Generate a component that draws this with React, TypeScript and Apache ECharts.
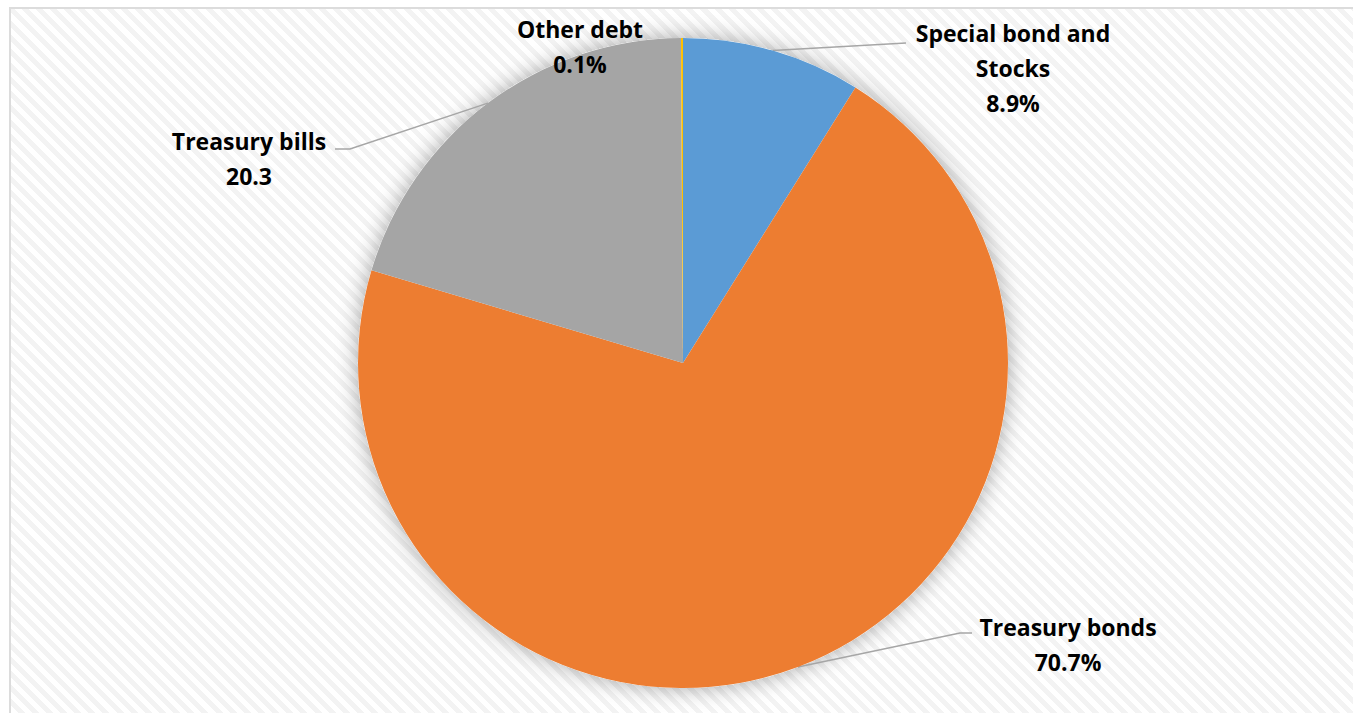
import React, { useEffect, useRef } from "react";
import * as echarts from "echarts";

// ---- data ----
const categories = ["Special bond and\nStocks", "Treasury bonds", "Treasury bills", "Other debt"];
const values = [8.9, 70.7, 20.3, 0.1];
const valueLabels = ["8.9%", "70.7%", "20.3", "0.1%"];
const colors = ["#5B9BD5", "#ED7D31", "#A5A5A5", "#FFC000"];

// ---- label layout (positions only) ----
const LABEL_LAYOUT: { x: number; y: number; line: number[][] | null }[] = [
  { x: 1013, y: 68, line: [[906, 43]] },
  { x: 1068, y: 644, line: [[960, 633], [972, 633]] },
  { x: 249, y: 158, line: [[350, 149], [335, 149]] },
  { x: 580, y: 46, line: null },
];

const CENTER = [683, 363];
const RADIUS = 325;

export default function App() {
  const ref = useRef<HTMLDivElement>(null);

  useEffect(() => {
    if (!ref.current) return;
    const chart = echarts.init(ref.current, undefined, { renderer: "svg" });
    const data = categories.map((name, i) => ({
      name,
      value: values[i],
      itemStyle: { color: colors[i] },
      labelLine: { show: LABEL_LAYOUT[i].line != null },
    }));
    chart.setOption({
      animation: false,
      backgroundColor: "transparent",
      series: [
        {
          type: "pie",
          silent: true,
          center: CENTER,
          radius: RADIUS,
          z: 1,
          label: { show: false },
          labelLine: { show: false },
          data: [
            {
              value: 1,
              itemStyle: {
                color: "#ffffff",
                shadowBlur: 22,
                shadowColor: "rgba(0,0,0,0.35)",
              },
            },
          ],
        },
        {
          type: "pie",
          z: 2,
          center: CENTER,
          radius: RADIUS,
          startAngle: 90,
          clockwise: true,
          avoidLabelOverlap: false,
          itemStyle: { borderWidth: 0 },
          label: {
            show: true,
            position: "outside",
            formatter: (p: any) => `${p.name}\n${valueLabels[p.dataIndex]}`,
            fontFamily: "'Open Sans', Lato, sans-serif",
            fontWeight: "bold",
            fontSize: 23,
            lineHeight: 35,
            color: "#000000",
            align: "center",
          },
          labelLine: {
            show: true,
            lineStyle: { color: "#a6a6a6", width: 1.5 },
          },
          labelLayout: (params: any) => {
            const L = LABEL_LAYOUT[params.dataIndex];
            const res: any = {
              x: L.x,
              y: L.y,
              align: "center",
              verticalAlign: "middle",
            };
            if (L.line && params.labelLinePoints) {
              res.labelLinePoints = [params.labelLinePoints[0], ...L.line];
            }
            return res;
          },
          data,
        },
      ],
    });
    return () => chart.dispose();
  }, []);

  return (
    <div
      style={{
        position: "fixed",
        left: 0,
        top: 0,
        width: 1353,
        height: 713,
        background: "#ffffff",
        overflow: "hidden",
      }}
    >
      <div
        style={{
          position: "absolute",
          left: 9,
          top: 7,
          right: 0,
          bottom: 0,
          borderLeft: "2px solid #dcdcdc",
          borderTop: "2px solid #dcdcdc",
          background:
            "repeating-linear-gradient(45deg, #ffffff 0px, #ffffff 5px, #f3f3f3 5px, #f3f3f3 10px)",
        }}
      />
      <div
        ref={ref}
        style={{ position: "absolute", left: 0, top: 0, width: 1353, height: 713 }}
      />
    </div>
  );
}
